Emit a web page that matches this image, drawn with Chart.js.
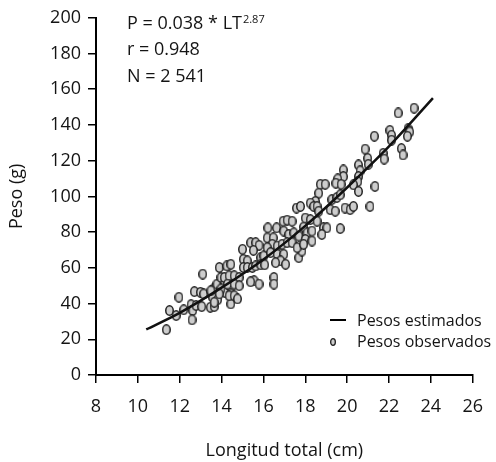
<!DOCTYPE html>
<html>
<head>
<meta charset="utf-8">
<script src="https://cdn.jsdelivr.net/npm/chart.js@4"></script>
<style>
  html, body { margin: 0; padding: 0; background: #fff; }
</style>
</head>
<body>
<canvas id="grafico" width="496" height="462"></canvas>
<script>
// pesos observados (longitud total cm, peso g)
const longitudObs = [
  11.36, 11.51, 11.83, 11.96, 12.19, 12.54, 12.62, 12.59, 12.78, 12.70, 12.99, 13.14, 13.05, 13.10,
  13.46, 13.65, 13.57, 13.62, 13.81, 13.78, 13.89, 13.97, 14.13, 14.16, 14.25, 14.44, 14.44, 14.44,
  15.00, 15.39, 15.63, 15.79, 15.52, 15.87, 16.02, 15.04, 15.23, 15.04, 15.23, 15.47, 15.63, 15.87,
  16.06, 16.18, 16.47, 16.63, 16.21, 16.94, 17.13, 17.37, 17.58, 17.77, 16.97, 17.21, 17.45, 17.69,
  16.42, 16.66, 16.89, 17.13, 17.37, 16.18, 16.34, 16.66, 16.97, 16.82, 17.06, 16.58, 17.69, 17.84,
  16.50, 16.50, 15.55, 15.79, 15.39, 14.13, 14.36, 14.60, 14.84, 14.28, 14.60, 14.84, 13.97, 13.49,
  13.89, 14.36, 14.60, 14.76, 13.65,
  20.86, 20.98, 21.01, 21.72, 21.77, 20.54, 20.62, 20.54, 20.51, 19.82, 19.82, 19.55, 19.46, 19.71,
  20.30, 20.54, 21.33, 18.72, 18.95, 18.64, 18.48, 18.24, 18.40, 18.56, 18.64, 19.27, 19.51, 19.67,
  19.19, 19.43, 19.90, 20.14, 20.30, 21.09, 18.00, 18.24, 18.56, 18.87, 19.03, 18.79, 19.67, 17.92,
  18.08, 18.32, 18.00, 18.32, 17.61, 17.92,
  21.30, 22.04, 22.12, 22.12, 22.44, 23.20, 22.91, 22.99, 22.88, 22.59, 22.67
];
const pesoObs = [
  25.4, 36.1, 33.3, 43.5, 36.5, 39.4, 36.1, 30.9, 38.9, 46.7, 46.3, 45.4, 38.3, 56.5,
  37.9, 38.3, 43.5, 48.2, 42.1, 50.9, 60.2, 54.6, 50.9, 46.3, 61.1, 62.0, 45.4, 39.8,
  70.4, 74.1, 74.1, 72.6, 69.8, 65.7, 66.7, 64.8, 63.9, 60.2, 60.2, 60.2, 61.1, 61.7,
  61.7, 76.8, 76.8, 82.4, 82.4, 86.1, 86.7, 86.1, 93.5, 94.4, 80.6, 78.7, 79.6, 77.8,
  73.2, 72.2, 73.2, 74.1, 74.1, 71.3, 68.5, 67.6, 67.6, 63.9, 62.0, 62.9, 65.7, 69.4,
  54.6, 50.9, 52.8, 50.9, 52.2, 54.6, 55.6, 55.6, 54.6, 50.9, 50.9, 50.0, 48.2, 47.2,
  45.4, 44.4, 44.4, 42.6, 40.7,
  126.5, 121.3, 118.0, 124.1, 120.9, 117.6, 114.3, 111.1, 108.3, 114.8, 111.1, 109.8, 107.4, 106.8,
  106.5, 102.8, 105.6, 106.8, 106.8, 101.8, 97.2, 96.3, 94.4, 94.4, 91.7, 98.2, 99.4, 100.9,
  92.6, 91.7, 93.5, 92.6, 94.4, 94.4, 87.9, 87.0, 86.1, 82.4, 82.4, 78.7, 82.0, 82.8,
  79.6, 80.6, 75.9, 75.0, 71.3, 73.2,
  133.7, 137.0, 134.3, 131.5, 146.7, 149.4, 137.9, 136.1, 133.7, 126.8, 123.2
];
// pesos estimados (curva ajustada)
const longitudEst = [10.4, 12, 14, 16, 18, 20, 22, 24.1];
const pesoEst = [25.5, 34.8, 48.9, 64.7, 83.5, 105, 128, 155];

const FUENTE = "'Open Sans', sans-serif";
const TINTA = '#141414';

function ovalo(w, h, lw) {
  const c = document.createElement('canvas');
  c.width = w; c.height = h;
  const g = c.getContext('2d');
  g.beginPath();
  g.ellipse(w / 2, h / 2, w / 2 - lw / 2, h / 2 - lw / 2, 0, 0, 2 * Math.PI);
  g.fillStyle = '#cdcdcd';
  g.fill();
  g.lineWidth = lw;
  g.strokeStyle = '#222';
  g.stroke();
  return c;
}
const marcaPunto = ovalo(9, 11, 1.5);
const marcaLeyenda = ovalo(6, 8, 1.3);

const textos = {
  id: 'textos',
  afterDraw(chart) {
    const c = chart.ctx;
    c.save();
    c.fillStyle = TINTA;
    c.textBaseline = 'alphabetic';
    c.textAlign = 'left';
    c.font = '18px ' + FUENTE;
    const p = 'P = 0.038 * LT';
    c.fillText(p, 127, 29);
    const w = c.measureText(p).width;
    c.font = '11px ' + FUENTE;
    c.fillText('2.87', 127 + w + 1, 23);
    c.font = '18px ' + FUENTE;
    c.fillText('r = 0.948', 127, 55);
    c.fillText('N = 2 541', 127, 82);

    // leyenda
    c.font = '16px ' + FUENTE;
    c.strokeStyle = '#000';
    c.lineWidth = 2;
    c.beginPath();
    c.moveTo(330, 320);
    c.lineTo(346, 320);
    c.stroke();
    c.fillText(chart.data.datasets[0].label, 357, 326);
    c.drawImage(marcaLeyenda, 333 - 3, 342 - 4);
    c.fillText(chart.data.datasets[1].label, 357, 347);
    c.restore();
  }
};

const ctx = document.getElementById('grafico').getContext('2d');
const chart = new Chart(ctx, {
  type: 'scatter',
  data: {
    datasets: [
      {
        type: 'line',
        label: 'Pesos estimados',
        data: longitudEst.map((x, i) => ({ x: x, y: pesoEst[i] })),
        borderColor: '#111',
        borderWidth: 2.5,
        pointRadius: 0,
        cubicInterpolationMode: 'monotone',
        fill: false,
        order: 0
      },
      {
        label: 'Pesos observados',
        data: longitudObs.map((x, i) => ({ x: x, y: pesoObs[i] })),
        pointStyle: marcaPunto,
        pointRadius: 5,
        order: 1
      }
    ]
  },
  options: {
    responsive: false,
    animation: false,
    devicePixelRatio: 1,
    layout: { padding: { top: 15, right: 21, left: 0, bottom: 0 } },
    plugins: { legend: { display: false }, tooltip: { enabled: false } },
    scales: {
      x: {
        type: 'linear',
        min: 8, max: 26,
        afterFit(s) { s.height = 87; },
        ticks: { stepSize: 2, color: TINTA, padding: 13, font: { family: FUENTE, size: 18 } },
        grid: { drawOnChartArea: false, drawTicks: true, tickLength: 8, color: '#000', lineWidth: 1.5 },
        border: { display: true, color: '#000', width: 2 },
        title: { display: true, text: 'Longitud total (cm)', color: TINTA, padding: { top: 4, bottom: 0 }, font: { family: FUENTE, size: 18 } }
      },
      y: {
        min: 0, max: 200,
        afterFit(s) { s.width = 96; },
        ticks: { stepSize: 20, color: TINTA, padding: 7, font: { family: FUENTE, size: 18 } },
        grid: { drawOnChartArea: false, drawTicks: true, tickLength: 8, color: '#000', lineWidth: 1.5 },
        border: { display: true, color: '#000', width: 2 },
        title: { display: true, text: 'Peso (g)', color: TINTA, padding: { top: 6, bottom: 4 }, font: { family: FUENTE, size: 18 } }
      }
    }
  },
  plugins: [textos]
});
</script>
</body>
</html>
